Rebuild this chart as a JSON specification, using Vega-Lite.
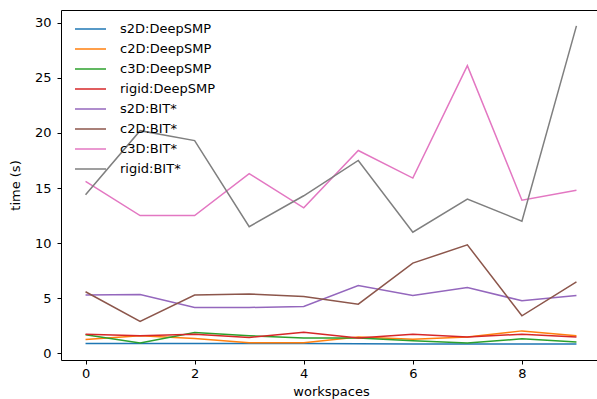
{
  "$schema": "https://vega.github.io/schema/vega-lite/v6.json",
  "autosize": "none",
  "padding": {"left": 61, "top": 10, "right": 0, "bottom": 39},
  "width": 540,
  "height": 350,
  "background": "white",
  "config": {
    "font": "DejaVu Sans",
    "view": {"stroke": "black", "strokeWidth": 1, "strokeOpacity": 1},
    "axis": {
      "domain": false,
      "grid": false,
      "tickColor": "black",
      "tickSize": 4,
      "labelFontSize": 13,
      "labelColor": "black",
      "titleFontSize": 13,
      "titleFontWeight": "normal",
      "titleColor": "black"
    }
  },
  "datasets": {
    "t": [
      {"ws":0,"series":"s2D:DeepSMP","t":0.9},{"ws":1,"series":"s2D:DeepSMP","t":0.9},{"ws":2,"series":"s2D:DeepSMP","t":0.9},{"ws":3,"series":"s2D:DeepSMP","t":0.9},{"ws":4,"series":"s2D:DeepSMP","t":0.9},{"ws":5,"series":"s2D:DeepSMP","t":0.88},{"ws":6,"series":"s2D:DeepSMP","t":0.87},{"ws":7,"series":"s2D:DeepSMP","t":0.86},{"ws":8,"series":"s2D:DeepSMP","t":0.86},{"ws":9,"series":"s2D:DeepSMP","t":0.86},
      {"ws":0,"series":"c2D:DeepSMP","t":1.27},{"ws":1,"series":"c2D:DeepSMP","t":1.6},{"ws":2,"series":"c2D:DeepSMP","t":1.35},{"ws":3,"series":"c2D:DeepSMP","t":0.97},{"ws":4,"series":"c2D:DeepSMP","t":0.97},{"ws":5,"series":"c2D:DeepSMP","t":1.5},{"ws":6,"series":"c2D:DeepSMP","t":1.3},{"ws":7,"series":"c2D:DeepSMP","t":1.5},{"ws":8,"series":"c2D:DeepSMP","t":2.05},{"ws":9,"series":"c2D:DeepSMP","t":1.6},
      {"ws":0,"series":"c3D:DeepSMP","t":1.7},{"ws":1,"series":"c3D:DeepSMP","t":0.95},{"ws":2,"series":"c3D:DeepSMP","t":1.9},{"ws":3,"series":"c3D:DeepSMP","t":1.6},{"ws":4,"series":"c3D:DeepSMP","t":1.4},{"ws":5,"series":"c3D:DeepSMP","t":1.4},{"ws":6,"series":"c3D:DeepSMP","t":1.15},{"ws":7,"series":"c3D:DeepSMP","t":0.95},{"ws":8,"series":"c3D:DeepSMP","t":1.33},{"ws":9,"series":"c3D:DeepSMP","t":1.05},
      {"ws":0,"series":"rigid:DeepSMP","t":1.75},{"ws":1,"series":"rigid:DeepSMP","t":1.6},{"ws":2,"series":"rigid:DeepSMP","t":1.75},{"ws":3,"series":"rigid:DeepSMP","t":1.45},{"ws":4,"series":"rigid:DeepSMP","t":1.93},{"ws":5,"series":"rigid:DeepSMP","t":1.4},{"ws":6,"series":"rigid:DeepSMP","t":1.75},{"ws":7,"series":"rigid:DeepSMP","t":1.5},{"ws":8,"series":"rigid:DeepSMP","t":1.75},{"ws":9,"series":"rigid:DeepSMP","t":1.5},
      {"ws":0,"series":"s2D:BIT*","t":5.3},{"ws":1,"series":"s2D:BIT*","t":5.35},{"ws":2,"series":"s2D:BIT*","t":4.17},{"ws":3,"series":"s2D:BIT*","t":4.17},{"ws":4,"series":"s2D:BIT*","t":4.26},{"ws":5,"series":"s2D:BIT*","t":6.17},{"ws":6,"series":"s2D:BIT*","t":5.26},{"ws":7,"series":"s2D:BIT*","t":5.98},{"ws":8,"series":"s2D:BIT*","t":4.78},{"ws":9,"series":"s2D:BIT*","t":5.26},
      {"ws":0,"series":"c2D:BIT*","t":5.6},{"ws":1,"series":"c2D:BIT*","t":2.9},{"ws":2,"series":"c2D:BIT*","t":5.3},{"ws":3,"series":"c2D:BIT*","t":5.4},{"ws":4,"series":"c2D:BIT*","t":5.17},{"ws":5,"series":"c2D:BIT*","t":4.47},{"ws":6,"series":"c2D:BIT*","t":8.19},{"ws":7,"series":"c2D:BIT*","t":9.85},{"ws":8,"series":"c2D:BIT*","t":3.42},{"ws":9,"series":"c2D:BIT*","t":6.5},
      {"ws":0,"series":"c3D:BIT*","t":15.6},{"ws":1,"series":"c3D:BIT*","t":12.5},{"ws":2,"series":"c3D:BIT*","t":12.5},{"ws":3,"series":"c3D:BIT*","t":16.3},{"ws":4,"series":"c3D:BIT*","t":13.2},{"ws":5,"series":"c3D:BIT*","t":18.4},{"ws":6,"series":"c3D:BIT*","t":15.9},{"ws":7,"series":"c3D:BIT*","t":26.1},{"ws":8,"series":"c3D:BIT*","t":13.9},{"ws":9,"series":"c3D:BIT*","t":14.8},
      {"ws":0,"series":"rigid:BIT*","t":14.4},{"ws":1,"series":"rigid:BIT*","t":20.2},{"ws":2,"series":"rigid:BIT*","t":19.3},{"ws":3,"series":"rigid:BIT*","t":11.5},{"ws":4,"series":"rigid:BIT*","t":14.3},{"ws":5,"series":"rigid:BIT*","t":17.5},{"ws":6,"series":"rigid:BIT*","t":11.0},{"ws":7,"series":"rigid:BIT*","t":14.0},{"ws":8,"series":"rigid:BIT*","t":12.0},{"ws":9,"series":"rigid:BIT*","t":29.7}
    ]
  },
  "data": {"name": "t"},
  "mark": {"type": "line", "strokeWidth": 1.5, "clip": true},
  "encoding": {
    "x": {
      "field": "ws", "type": "quantitative",
      "scale": {"domain": [-0.45, 9.45], "nice": false, "zero": false},
      "axis": {"values": [0, 2, 4, 6, 8], "title": "workspaces", "titlePadding": 5, "labelPadding": 3}
    },
    "y": {
      "field": "t", "type": "quantitative",
      "scale": {"domain": [-0.59, 31.14], "nice": false, "zero": false},
      "axis": {"values": [0, 5, 10, 15, 20, 25, 30], "title": "time (s)", "titlePadding": 12, "labelPadding": 6}
    },
    "color": {
      "field": "series", "type": "nominal",
      "scale": {
        "domain": ["s2D:DeepSMP","c2D:DeepSMP","c3D:DeepSMP","rigid:DeepSMP","s2D:BIT*","c2D:BIT*","c3D:BIT*","rigid:BIT*"],
        "range": ["#1f77b4","#ff7f0e","#2ca02c","#d62728","#9467bd","#8c564b","#e377c2","#7f7f7f"]
      },
      "legend": {
        "orient": "none",
        "legendX": 13,
        "legendY": 14,
        "title": null,
        "symbolType": "stroke",
        "symbolSize": 961,
        "symbolStrokeWidth": 1.5,
        "labelFontSize": 13,
        "labelColor": "black",
        "labelOffset": 13,
        "clipHeight": 10,
        "rowPadding": 7
      }
    }
  }
}
